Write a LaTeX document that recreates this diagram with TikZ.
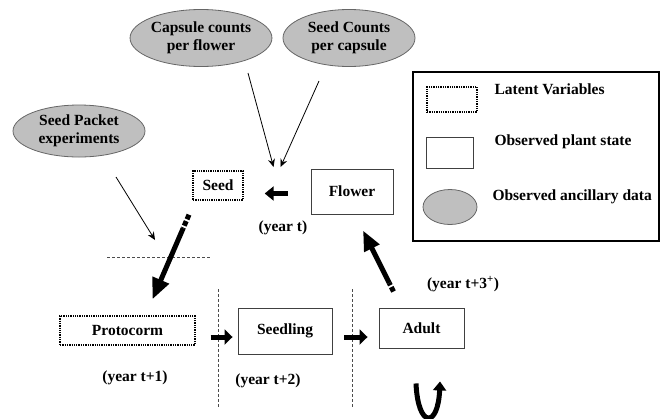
\documentclass[tikz,border=0pt]{standalone}
\usepackage{fontspec}
\setmainfont{Liberation Serif}
\usetikzlibrary{arrows.meta,positioning,calc,shapes.geometric}

\begin{document}
\begin{tikzpicture}[x=1pt,y=1pt,
  font=\fontsize{15.5}{18}\selectfont\bfseries,
  data/.style={ellipse,draw=black!60,fill=black!25,line width=0.8pt,inner sep=0pt,align=center},
  latent/.style={draw,line width=1.4pt,dash pattern=on 1.3pt off 1pt,inner sep=0pt},
  state/.style={draw=black!75,line width=0.9pt,inner sep=0pt},
  feed/.style={-{Stealth[length=8pt,width=7pt]},line width=0.8pt},
  fat/.style={line width=5pt},
  sep/.style={black!70,line width=0.6pt,dash pattern=on 3pt off 2pt}]

  \useasboundingbox (0,0) rectangle (660,-418);

  % Ancillary data
  \node[data,minimum width=138pt,minimum height=57pt] (capsule) at (201,-38) {Capsule counts\\per flower};
  \node[data,minimum width=132pt,minimum height=57pt] (seedcount) at (349,-38) {Seed Counts\\per capsule};
  \node[data,minimum width=132pt,minimum height=52pt] (packet) at (79,-131) {Seed Packet\\experiments};

  % Plant states
  \node[latent,minimum width=50pt,minimum height=29pt] (seed) at (218,-185.5) {Seed};
  \node[state,minimum width=82pt,minimum height=45pt] (flower) at (352,-191.5) {Flower};
  \node[latent,minimum width=135pt,minimum height=29pt] (proto) at (127.5,-330.5) {Protocorm};
  \node[state,minimum width=94pt,minimum height=46pt] (seedling) at (285,-331) {Seedling};
  \node[state,minimum width=85pt,minimum height=40pt] (adult) at (421.5,-328) {Adult};

  % Years
  \node (yt) at (283,-228) {(year t)};
  \node (yt1) at (135,-378) {(year t+1)};
  \node (yt2) at (268,-381) {(year t+2)};
  \node (yt3) at (463,-284) {(year t+3\textsuperscript{+})};

  % Separators
  \draw[sep] (107,-257) -- (210,-257);
  \foreach \x in {218,352}
    \draw[sep] (\x,-289) -- (\x,-407);

  % Data feeding the seed stage
  \coordinate (capfoot) at (248,-73);
  \coordinate (cntfoot) at (319,-81);
  \coordinate (pktfoot) at (116,-177);
  \draw[feed] (capfoot) -- ([shift={(-37pt,24.5pt)}]flower.west);
  \draw[feed] (cntfoot) -- ([shift={(-30pt,24.5pt)}]flower.west);
  \draw[feed] (pktfoot) -- (155,-240);

  % Transitions
  \draw[fat,-{Triangle[length=9pt,width=14pt]}] ([shift={(-23pt,-2pt)}]flower.west) -- ([shift={(21pt,-8pt)}]seed.east);

  \coordinate (sp0) at ([shift={(-29pt,-14pt)}]seed.south);
  \coordinate (sp2) at ([shift={(25pt,16pt)}]proto.north);
  \coordinate (sp1) at ($(sp0)!0.16!(sp2)$);
  \draw[fat,dash pattern=on 5pt off 2pt] (sp0) -- (sp1);
  \draw[fat,-{Triangle[length=21pt,width=17pt]}] (sp1) -- (sp2);

  \draw[fat,-{Triangle[length=8pt,width=15pt]}] ([shift={(15pt,-6.5pt)}]proto.east) -- ([shift={(-5pt,-6pt)}]seedling.west);
  \draw[fat,-{Triangle[length=8pt,width=15pt]}] ([shift={(12pt,-6pt)}]seedling.east) -- ([shift={(-11pt,-9pt)}]adult.west);

  \coordinate (af0) at ([shift={(-28pt,16pt)}]adult.north);
  \coordinate (af2) at ([shift={(11pt,-16pt)}]flower.south);
  \coordinate (af1) at ($(af0)!0.14!(af2)$);
  \draw[fat,dash pattern=on 5pt off 2pt] (af0) -- (af1);
  \draw[fat,-{Triangle[length=20pt,width=16pt]}] (af1) -- (af2);

  % Staying adult
  \coordinate (stayL) at ([shift={(-5.5pt,-35pt)}]adult.south);
  \coordinate (stayR) at ([shift={(18.5pt,-33pt)}]adult.south);
  \draw[fat,-{Triangle[length=9pt,width=13pt]}] (stayL) .. controls ($(stayL)+(2,-45)$) and ($(stayR)+(-2,-47)$) .. (stayR);

  % Key
  \draw[line width=1.2pt] (413,-72) rectangle (659,-241);
  \node[latent,minimum width=50pt,minimum height=25pt] (keylatent) at (452,-99.5) {};
  \node[state,minimum width=47pt,minimum height=31pt] (keystate) at (449.5,-152.5) {};
  \node[data,minimum width=54pt,minimum height=35pt] (keydata) at (450,-207) {};
  \node[anchor=west] at (491,-89) {Latent Variables};
  \node[anchor=west] at (491,-142) {Observed plant state};
  \node[anchor=west] at (489,-197) {Observed ancillary data};
\end{tikzpicture}
\end{document}
